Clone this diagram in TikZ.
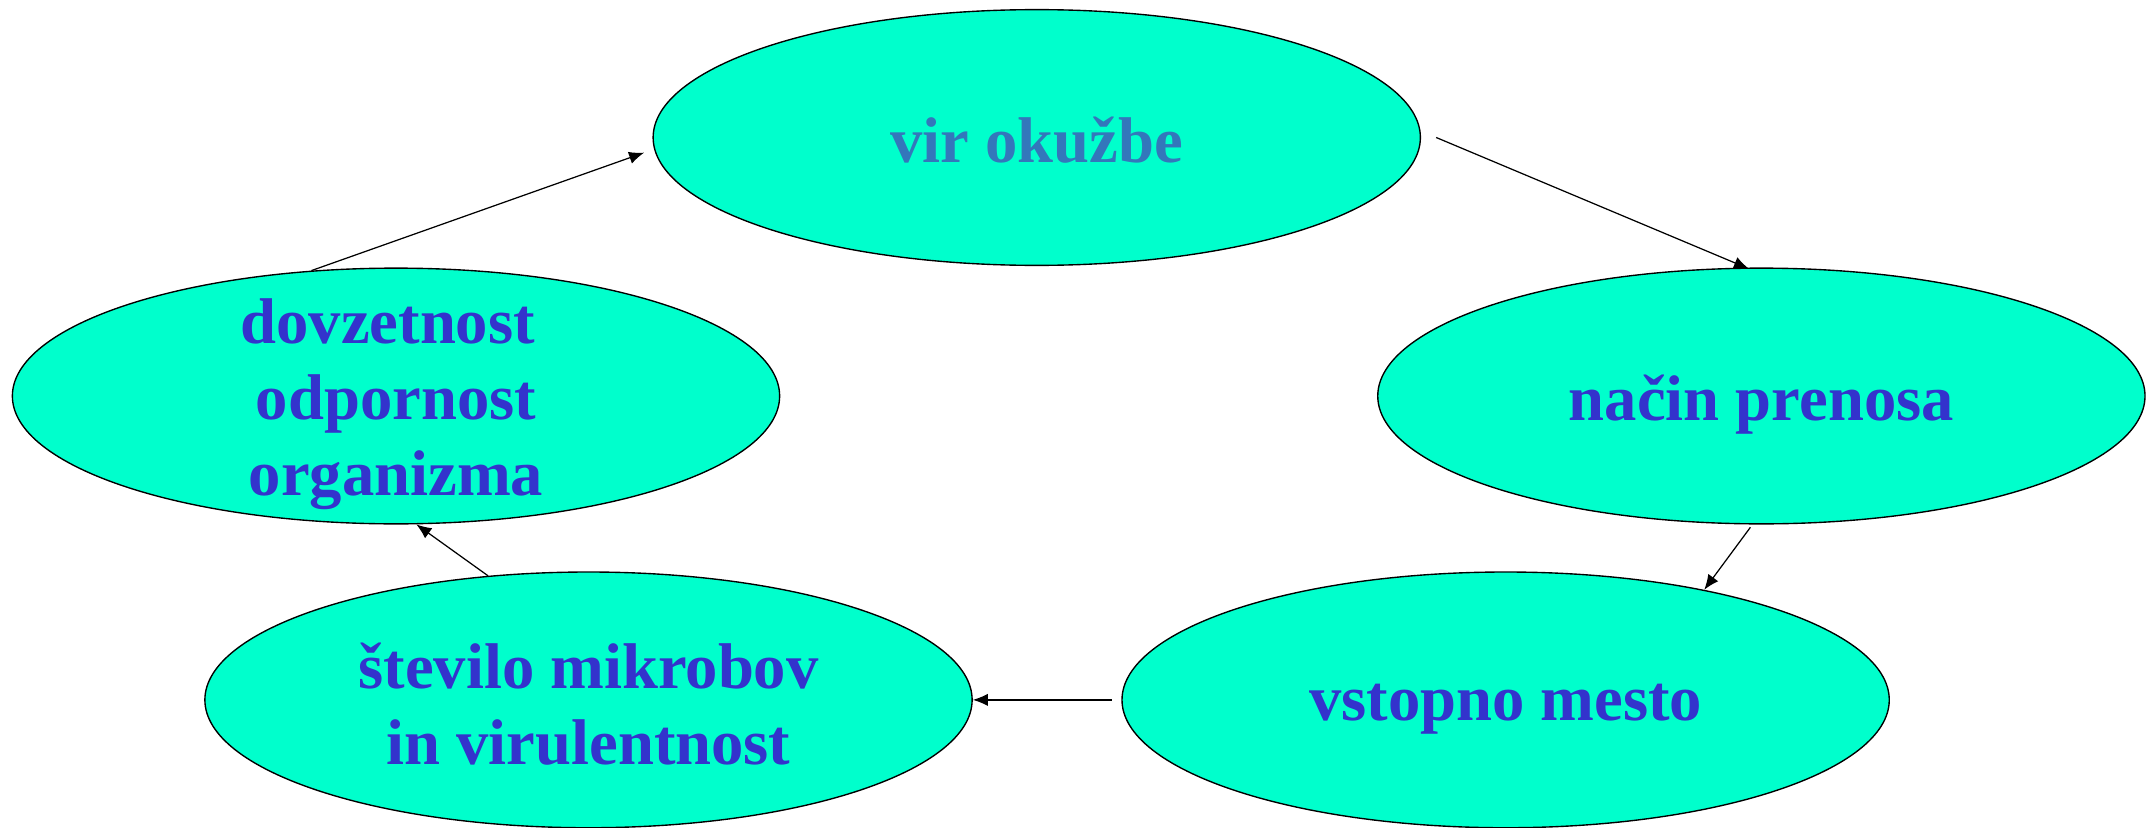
\documentclass[tikz,border=0pt]{standalone}
\usepackage{fontspec}
\setmainfont{Liberation Serif}
\usetikzlibrary{shapes.geometric,arrows.meta,calc}
\definecolor{fillc}{HTML}{00FFCC}
\definecolor{txtc}{HTML}{3333CC}
\definecolor{txtv}{HTML}{3377BB}
\begin{document}
\begin{tikzpicture}[x=1pt,y=-1pt,
  oval/.style={ellipse,draw=black,line width=1pt,fill=fillc,minimum width=558pt,minimum height=186pt,inner sep=0pt},
  lbl/.style={align=center,text=txtc,inner sep=0pt,font=\bfseries\fontsize{47}{55}\selectfont},
  conn/.style={line width=0.9pt,-{Latex[length=11pt,width=9pt]}}]
\useasboundingbox (0,0) rectangle (1568,602);
\node[oval,label={[lbl,text=txtv,yshift=-2pt]center:vir okužbe}] (e1) at (754,100) {};
\node[oval,label={[lbl,yshift=-6pt]center:način prenosa}] (e2) at (1281,288) {};
\node[oval,label={[lbl,yshift=-7pt]center:vstopno mesto}] (e3) at (1095,509) {};
\node[oval,label={[lbl,yshift=-3pt]center:število mikrobov\\in virulentnost}] (e4) at (428,509) {};
\node[oval,label={[lbl,yshift=-6pt]center:dovzetnost\hspace*{12pt}\\odpornost\\organizma}] (e5) at (288,288) {};
\draw[conn] ($(e1.east)+(11,0)$) -- ($(e2.north)+(-9,1)$);
\draw[conn] ($(e2.south)+(-8,2)$) -- (e3.29);
\draw[conn] ($(e3.west)+(-7,0)$) -- (e4.east);
\draw[conn] (e4.129) -- (e5.-81);
\draw[conn] (e5.124) -- ($(e1.west)+(-6,11)$);
\end{tikzpicture}
\end{document}
